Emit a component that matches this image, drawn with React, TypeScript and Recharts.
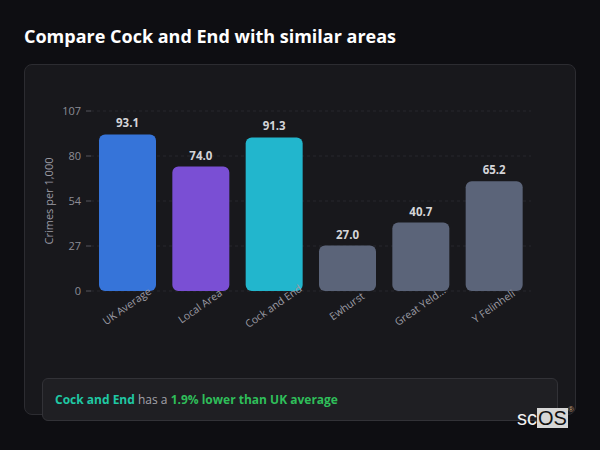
import React from "react";
import { BarChart, Bar, XAxis, YAxis, CartesianGrid, Cell, LabelList } from "recharts";

const categories = ["UK Average", "Local Area", "Cock and End", "Ewhurst", "Great Yeld...", "Y Felinheli"];
const values = [93.1, 74.0, 91.3, 27.0, 40.7, 65.2];
const barColors = ["#3674d9", "#7a4fd4", "#22b6cd", "#5b6479", "#5b6479", "#5b6479"];
const yTicks = [0, 26.75, 53.5, 80.25, 107];

const data = categories.map((name, i) => ({ name, value: values[i] }));

const FONT = "'Open Sans', 'Noto Sans', sans-serif";

const XTick = (props: any) => {
  const { x, y, payload } = props;
  return (
    <g transform={`translate(${x - 1},${y + 15})`}>
      <text
        transform="rotate(-35)"
        textAnchor="middle"
        dominantBaseline="central"
        fill="#9b9ba4"
        fontSize={10.5}
        fontFamily={FONT}
      >
        {payload.value}
      </text>
    </g>
  );
};

export default function App() {
  return (
    <div
      style={{
        position: "absolute",
        left: 0,
        top: 0,
        width: 600,
        height: 450,
        background: "#0e0e12",
        fontFamily: FONT,
        overflow: "hidden",
      }}
    >
      <div
        style={{
          position: "absolute",
          left: 24,
          top: 24,
          fontSize: 18,
          fontWeight: 700,
          color: "#ffffff",
          lineHeight: "24px",
        }}
      >
        Compare Cock and End with similar areas
      </div>
      <div
        style={{
          position: "absolute",
          left: 24,
          top: 64,
          width: 550,
          height: 349,
          background: "#18181c",
          border: "1px solid #2c2c31",
          borderRadius: 8,
        }}
      />
      <div style={{ position: "absolute", left: 24, top: 65 }}>
        <BarChart
          width={552}
          height={310}
          data={data}
          margin={{ top: 46, right: 45, left: 0, bottom: 0 }}
        >
          <CartesianGrid vertical={false} stroke="#27272c" strokeDasharray="3 3" />
          <XAxis
            dataKey="name"
            interval={0}
            axisLine={false}
            tickLine={false}
            tickSize={0}
            tickMargin={0}
            height={84}
            tick={<XTick />}
          />
          <YAxis
            width={67}
            domain={[0, 107]}
            ticks={yTicks}
            tickFormatter={(v: number) => String(Math.round(v))}
            axisLine={false}
            tickLine={{ stroke: "#55555c" }}
            tickSize={5}
            tickMargin={5}
            tick={{ fill: "#8d8d96", fontSize: 11, fontFamily: FONT }}
            label={{
              value: "Crimes per 1,000",
              angle: -90,
              position: "center",
              dx: -8,
              fill: "#9b9ba4",
              fontSize: 11,
              fontFamily: FONT,
            }}
          />
          <Bar dataKey="value" barSize={57} radius={[6, 6, 6, 6]} isAnimationActive={false}>
            {data.map((d, i) => (
              <Cell key={d.name} fill={barColors[i]} />
            ))}
            <LabelList
              dataKey="value"
              position="top"
              offset={7}
              formatter={(v: any) => Number(v).toFixed(1)}
              fill="#d4d4d8"
              fontSize={11.5}
              fontWeight={700}
              fontFamily={FONT}
            />
          </Bar>
        </BarChart>
      </div>
      <div
        style={{
          position: "absolute",
          left: 42,
          top: 378,
          width: 514,
          height: 41,
          background: "#1f1f23",
          border: "1px solid #323237",
          borderRadius: 6,
          boxSizing: "content-box",
        }}
      >
        <div
          style={{
            position: "absolute",
            left: 12,
            top: 12,
            fontSize: 12,
            lineHeight: "18px",
            whiteSpace: "nowrap",
          }}
        >
          <span style={{ color: "#1fc8a4", fontWeight: 700 }}>Cock and End</span>
          <span style={{ color: "#a3a3ab" }}> has a </span>
          <span style={{ color: "#2fbe5a", fontWeight: 700 }}>1.9% lower than UK average</span>
        </div>
      </div>
      <div
        style={{
          position: "absolute",
          left: 517,
          top: 408,
          height: 20,
          display: "flex",
          alignItems: "center",
          fontFamily: "'Liberation Sans', Arial, sans-serif",
          fontSize: 20,
          lineHeight: "20px",
        }}
      >
        <span style={{ color: "#f2f2f2" }}>sc</span>
        <span style={{ color: "#111111", background: "#d6d6d6", padding: "0 1px" }}>OS</span>
        <span
          style={{
            position: "absolute",
            right: -6,
            top: -2,
            fontSize: 8,
            lineHeight: "8px",
            color: "#c9a27a",
          }}
        >
          ®
        </span>
      </div>
    </div>
  );
}
